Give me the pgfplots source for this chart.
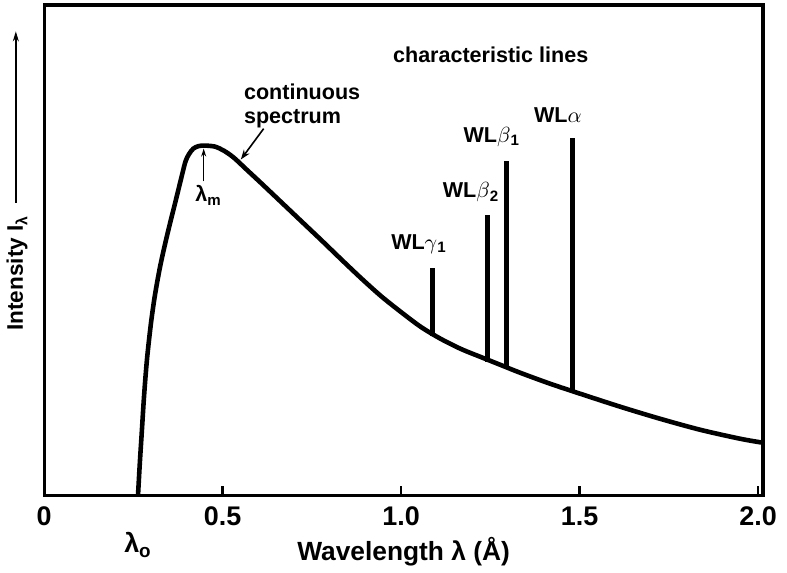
\documentclass[border=0pt]{standalone}
\usepackage{fontspec}
\setmainfont{Liberation Sans}
\usepackage{pgfplots}
\pgfplotsset{compat=1.18}
\usetikzlibrary{arrows.meta}
\begin{document}
\begin{tikzpicture}
\begin{axis}[
  width=360.5pt, height=246pt, scale only axis,
  xmin=0, xmax=2.014, ymin=0, ymax=492,
  axis line style={line width=1.6pt},
  xtick={0,0.5,1,1.5,2},
  xticklabels={0,0.5,1.0,1.5,2.0},
  extra x ticks={0.263},
  extra x tick labels={λ\textsubscript{o}},
  extra x tick style={major tick length=0pt, tick label style={yshift=-13pt}},
  ytick=\empty,
  xtick pos=lower, tick align=inside,
  major tick length=5pt,
  tick style={line width=1.2pt, black},
  tick label style={font=\bfseries\fontsize{13.5}{15}\selectfont, yshift=-2pt},
  /pgf/number format/assume math mode=true,
  xlabel={Wavelength λ (Å)},
  xlabel style={font=\bfseries\fontsize{13.2}{15}\selectfont, at={(axis description cs:0.5,0)}, anchor=center, yshift=-28pt},
  ylabel={Intensity I\textsubscript{λ}\hspace{6pt}\tikz[baseline=-0.6ex]\draw[line width=0.7pt,-{Stealth[length=5pt,width=3pt]}] (0,0)--(86pt,0);},
  ylabel style={font=\bfseries\fontsize{11.3}{13}\selectfont, at={(axis description cs:-0.0375,0.642)}, anchor=center},
  clip=false,
]
\addplot[black, line width=2.3pt, smooth, tension=0.5] coordinates {
(0.263,0) (0.268,32) (0.274,66) (0.280,100) (0.288,136) (0.299,172)
(0.310,200) (0.324,228) (0.338,251) (0.352,272) (0.366,292) (0.377,308)
(0.388,324) (0.396,335) (0.405,342) (0.418,348) (0.433,350.5) (0.450,351) (0.478,350)
(0.503,346) (0.531,339) (0.567,327) (0.609,313) (0.665,294) (0.721,275)
(0.777,256) (0.832,237) (0.888,218) (0.944,200) (1.000,184) (1.056,169)
(1.112,157) (1.168,147) (1.223,139) (1.279,131) (1.335,123) (1.419,112)
(1.503,102) (1.615,89) (1.726,77) (1.838,66) (1.950,57) (2.014,53)
};
% characteristic lines
\addplot[black, line width=2.6pt] coordinates {(1.089,160) (1.089,228)};
\addplot[black, line width=2.6pt] coordinates {(1.243,134) (1.243,281)};
\addplot[black, line width=2.6pt] coordinates {(1.296,127) (1.296,336)};
\addplot[black, line width=2.6pt] coordinates {(1.480,103) (1.480,359)};
% annotations
\node[font=\bfseries\fontsize{10.8}{12}\selectfont] at (axis cs:1.251,442) {characteristic lines};
\node[font=\bfseries\fontsize{10.8}{12}\selectfont, align=left, anchor=west, inner sep=0pt] at (axis cs:0.559,391) {continuous\\spectrum};
\draw[line width=0.8pt, -{Stealth[length=5pt,width=3.5pt]}] (axis cs:0.615,368) -- (axis cs:0.551,337);
\draw[line width=0.7pt, -{Stealth[length=4pt,width=2.5pt]}] (axis cs:0.447,315) -- (axis cs:0.447,348);
\node[font=\bfseries\fontsize{10.8}{12}\selectfont] at (axis cs:0.461,301) {λ\textsubscript{m}};
\node[font=\bfseries\fontsize{10.8}{12}\selectfont] at (axis cs:1.050,252) {WL$\gamma$\textsubscript{1}};
\node[font=\bfseries\fontsize{10.8}{12}\selectfont] at (axis cs:1.196,304) {WL$\beta$\textsubscript{2}};
\node[font=\bfseries\fontsize{10.8}{12}\selectfont] at (axis cs:1.254,360) {WL$\beta$\textsubscript{1}};
\node[font=\bfseries\fontsize{10.8}{12}\selectfont] at (axis cs:1.439,382) {WL$\alpha$};
\end{axis}
\path ([shift={(-21pt,-37.5pt)}]current axis.south west) rectangle ([shift={(12pt,2.5pt)}]current axis.north east);
\end{tikzpicture}
\end{document}
